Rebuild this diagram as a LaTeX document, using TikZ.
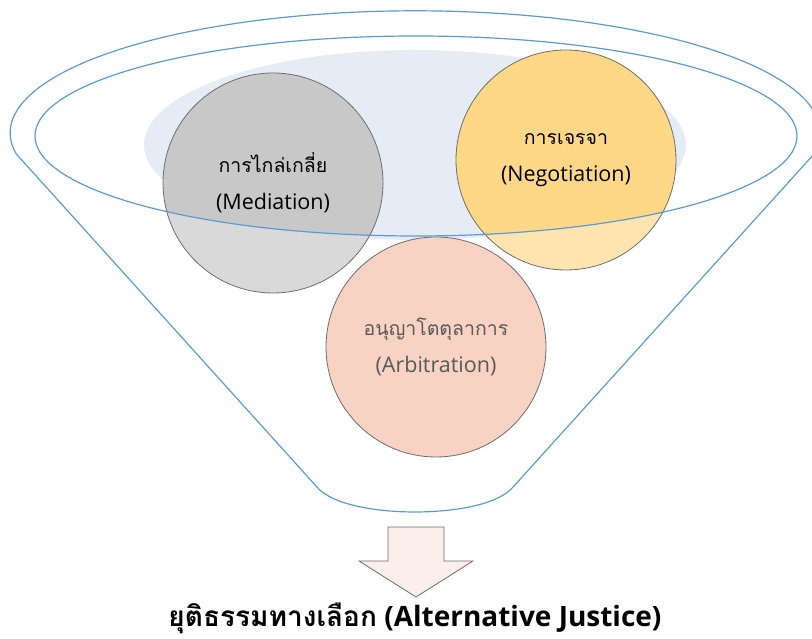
\documentclass[tikz,border=0pt]{standalone}
\usepackage{fontspec}
\setmainfont{Open Sans}
\newfontfamily\thaifont[Script=Thai]{Loma}
\newcommand{\thaiball}{\thaifont\fontsize{19.5}{37}\selectfont}
\usepackage{tikz}
\usetikzlibrary{positioning}
\definecolor{FunnelBlue}{RGB}{91, 155, 213}
\definecolor{MouthBlue}{RGB}{229, 236, 246}
\definecolor{EdgeGray}{RGB}{110, 110, 110}
\definecolor{MedLow}{RGB}{217, 217, 217}
\definecolor{MedHigh}{RGB}{200, 200, 200}
\definecolor{NegLow}{RGB}{254, 229, 175}
\definecolor{NegHigh}{RGB}{254, 216, 134}
\definecolor{ArbFill}{RGB}{248, 210, 195}
\definecolor{ArbText}{RGB}{89, 89, 89}
\definecolor{ArrowFill}{RGB}{252, 238, 234}

\begin{document}
\begin{tikzpicture}[x=1pt, y=1pt,
    ball/.style={circle, draw=EdgeGray, line width=0.8pt, minimum size=220pt,
                 inner sep=0pt, align=center, font=\fontsize{21.5}{37}\selectfont},
    funnel/.style={draw=FunnelBlue, line width=1.2pt}]
    \useasboundingbox (0,0) rectangle (812,639);

    % Funnel body
    \draw[funnel] (814,485) arc[start angle=-10, end angle=190, x radius=405, y radius=122]
        -- (316,153) .. controls (332,133) and (380,127) .. (415,127)
        .. controls (450,127) and (498,133) .. (514,153) -- cycle;
    \coordinate (mouth) at (416,503);

    % Light area in the mouth
    \fill[MouthBlue] (415,494) ellipse[x radius=271, y radius=95];

    % Balls
    \node[ball, fill=MedLow,
          path picture={\fill[MedHigh] (mouth) ellipse[x radius=381, y radius=100];}]
          (mediation) at (273,456) {{\thaiball การไกล่เกลี่ย}\\(Mediation)};
    \node[ball, fill=NegLow,
          path picture={\fill[NegHigh] (mouth) ellipse[x radius=381, y radius=100];}]
          (negotiation) at (566,479) {{\thaiball การเจรจา}\\(Negotiation)};
    \node[ball, fill=ArbFill, text=ArbText]
          (arbitration) at (436,292) {{\thaiball อนุญาโตตุลาการ}\\(Arbitration)};

    % Rim of the mouth
    \draw[funnel] (mouth) ellipse[x radius=381, y radius=100];

    % Outlet arrow
    \draw[EdgeGray, fill=ArrowFill, line width=0.8pt] (388,112) -- (444,112) -- (444,78)
        -- (473,78) -- (416,42) -- (359,78) -- (388,78) -- cycle;

    \node[font=\fontsize{28}{32}\selectfont\bfseries] (result) at (415,21)
        {{\thaifont ยุติธรรมทางเลือก} (Alternative Justice)};
\end{tikzpicture}
\end{document}
